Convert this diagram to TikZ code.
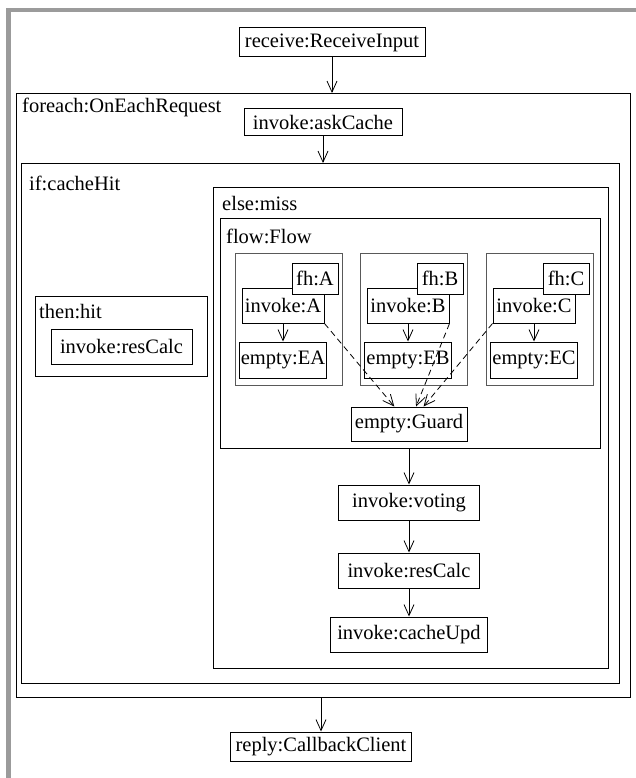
\documentclass[tikz,border=0pt]{standalone}
\usepackage{fontspec}
\setmainfont{Liberation Serif}
\usetikzlibrary{arrows.meta}
\definecolor{framegray}{RGB}{155,155,155}

\begin{document}
\begin{tikzpicture}[x=1pt,y=-1pt,font=\fontsize{20.5}{24}\selectfont]
\tikzstyle{act}=[draw, line width=1pt, inner sep=0.5pt, fill=white]
\tikzstyle{block}=[draw, line width=1.1pt, anchor=north west, inner sep=0pt]
\tikzstyle{fhgroup}=[draw=black!65, line width=1pt, anchor=north west, inner sep=0pt]
\tikzstyle{lbl}=[anchor=base west, inner sep=0pt]
\tikzstyle{arr}=[line width=0.8pt, -{Straight Barb[length=11pt,width=10pt]}]

\useasboundingbox (0,0) rectangle (636,778);
\draw[framegray, line width=4.5pt] (8.5,778) -- (8.5,10) -- (636,10);

% nested regions
\node[block, minimum width=614, minimum height=604] (foreach) at (16,93) {};
\node[lbl] (foreachlbl) at (22,113) {foreach:OnEachRequest};
\node[block, minimum width=598, minimum height=520] (ifhit) at (21,163) {};
\node[lbl] (iflbl) at (29,190) {if:cacheHit};
\node[block, minimum width=172, minimum height=80] (thenhit) at (35,296) {};
\node[lbl] (thenlbl) at (39,318) {then:hit};
\node[block, minimum width=395, minimum height=481] (elsemiss) at (213,187) {};
\node[lbl] (elselbl) at (222,210) {else:miss};
\node[block, minimum width=380, minimum height=230] (flow) at (220,218) {};
\node[lbl] (flowlbl) at (226,243) {flow:Flow};

\node[act, minimum width=186, minimum height=29] (receive) at (332,42.5) {receive:ReceiveInput};
\node[act, minimum width=158, minimum height=27] (askcache) at (323,122.5) {invoke:askCache};
\node[act, minimum width=141, minimum height=35] (thencalc) at (121.5,346.5) {invoke:resCalc};
\node[act, minimum width=116, minimum height=34] (guard) at (409,424) {empty:Guard};

% fault handler branches
\foreach \g/\x in {A/235, B/360, C/486} {
\node[fhgroup, minimum width=107, minimum height=132] (grp\g) at (\x,253) {};
\node[act, minimum width=82, minimum height=35] (inv\g) at (\x+48,305.5) {invoke:\g};
\node[act, minimum width=46, minimum height=31] (fh\g) at (\x+80,278.5) {fh:\g};
\node[act, minimum width=87, minimum height=36] (empty\g) at (\x+48,360) {empty:E\g};
\draw[arr] (inv\g) -- (empty\g);
}
\foreach \g/\a in {A/south east, B/south east, C/south west} {
\draw[arr, dash pattern=on 6pt off 4pt] (inv\g.\a) -- (guard);
}

\node[act, minimum width=141, minimum height=35] (voting) at (409,502.5) {invoke:voting};
\node[act, minimum width=141, minimum height=35] (rescalc) at (409,570.5) {invoke:resCalc};
\node[act, minimum width=157, minimum height=35] (cacheupd) at (409,634.5) {invoke:cacheUpd};
\node[act, minimum width=181, minimum height=29] (reply) at (321,746.5) {reply:CallbackClient};

\draw[arr] (receive) -- (receive |- foreach.north);
\draw[arr] (askcache) -- (askcache |- ifhit.north);
\draw[arr] (voting |- flow.south) -- (voting);
\draw[arr] (voting) -- (rescalc);
\draw[arr] (rescalc) -- (cacheupd);
\draw[arr] (reply |- foreach.south) -- (reply);
\end{tikzpicture}
\end{document}
